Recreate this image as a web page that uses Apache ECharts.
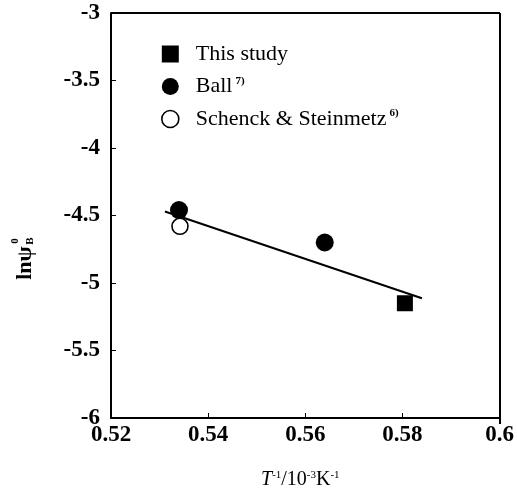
<!DOCTYPE html>
<html><head><meta charset="utf-8">
<script src="https://cdn.jsdelivr.net/npm/echarts@6/dist/echarts.min.js"></script>
<style>html,body{margin:0;padding:0;background:#fff}#c{width:517px;height:495px}</style>
</head><body><div id="c"></div>
<script>
const xTicks = [0.52, 0.54, 0.56, 0.58, 0.6];
const yTicks = [-6, -5.5, -5, -4.5, -4, -3.5, -3];
const thisStudy = [[0.5805, -5.15]];
const ball = [[0.534, -4.46], [0.564, -4.70]];
const schenck = [[0.5342, -4.58]];
const fitLine = [[0.5311, -4.47], [0.584, -5.113]];

const FONT = '"Liberation Serif", "DejaVu Serif", serif';
const GL = 111, GR = 17, GT = 13, GB = 71;
const W = 517, H = 495;
const chart = echarts.init(document.getElementById('c'));
const supStyle = {fontSize: 11, fontFamily: FONT, fontWeight: 'bold', color: '#000', verticalAlign: 'top', lineHeight: 22, padding: [0,0,8,3]};
chart.setOption({
  animation: false,
  backgroundColor: '#fff',
  grid: {left: GL, right: GR, top: GT, bottom: GB, show: false},
  xAxis: {
    type: 'value', min: 0.52, max: 0.6, interval: 0.02,
    axisLine: {show: true, lineStyle: {color: '#000', width: 2}},
    axisTick: {show: true, inside: true, length: 5, lineStyle: {color: '#000', width: 1}},
    splitLine: {show: false},
    axisLabel: {color: '#000', fontFamily: FONT, fontSize: 23, fontWeight: 'bold', margin: 6,
      formatter: v => xTicks.find(t => Math.abs(t - v) < 1e-9).toString()},
    name: '{i|T}{s|-1}{n|/10}{s|-3}{n|K}{s|-1}',
    nameLocation: 'middle', nameGap: 52,
    nameTextStyle: {padding: [0, 10, 0, 0], rich: {
      i: {fontFamily: FONT, fontStyle: 'italic', fontSize: 20, color: '#000'},
      n: {fontFamily: FONT, fontSize: 20, color: '#000'},
      s: {fontFamily: FONT, fontSize: 11, color: '#000', verticalAlign: 'top', padding: [0,0,9,0]}
    }}
  },
  yAxis: {
    type: 'value', min: -6, max: -3, interval: 0.5,
    axisLine: {show: true, onZero: false, lineStyle: {color: '#000', width: 2}},
    axisTick: {show: true, inside: true, length: 5, lineStyle: {color: '#000', width: 1}},
    splitLine: {show: false},
    axisLabel: {color: '#000', fontFamily: FONT, fontSize: 23, fontWeight: 'bold', margin: 11,
      formatter: v => yTicks.find(t => Math.abs(t - v) < 1e-9).toString()}
  },
  graphic: [
    {type: 'line', shape: {x1: GL, y1: GT, x2: W - GR, y2: GT}, style: {stroke: '#000', lineWidth: 2}},
    {type: 'line', shape: {x1: W - GR, y1: GT, x2: W - GR, y2: H - GB}, style: {stroke: '#000', lineWidth: 2}},
    {type: 'group', x: 0, y: 258, rotation: Math.PI / 2, children: [
      {type: 'text', x: -5, y: 25, style: {text: 'lnψ', font: 'bold 22px ' + FONT, fill: '#000', align: 'center', verticalAlign: 'middle'}},
      {type: 'text', x: 17, y: 15, style: {text: '0', font: 'bold 11px ' + FONT, fill: '#000', align: 'center', verticalAlign: 'middle'}},
      {type: 'text', x: 17, y: 30, style: {text: 'B', font: 'bold 11px ' + FONT, fill: '#000', align: 'center', verticalAlign: 'middle'}}
    ]}
  ],
  legend: {
    orient: 'vertical', left: 156, top: 38, itemGap: 10.5, itemWidth: 17, itemHeight: 17,
    data: [
      {name: 'This study', icon: 'rect', itemStyle: {color: '#000', opacity: 1}},
      {name: 'Ball', icon: 'circle', itemStyle: {color: '#000', opacity: 1}},
      {name: 'Schenck & Steinmetz', icon: 'circle', itemStyle: {color: '#fff', borderColor: '#000', borderWidth: 1.6, opacity: 1}}
    ],
    formatter: name => name === 'Ball' ? 'Ball{sup|7)}' : (name === 'Schenck & Steinmetz' ? 'Schenck & Steinmetz{sup|6)}' : name),
    textStyle: {fontFamily: FONT, fontSize: 22, lineHeight: 22, color: '#000', padding: [0,0,0,12],
      rich: {sup: supStyle}}
  },
  series: [
    {type: 'line', name: 'fit', data: fitLine, symbol: 'none', lineStyle: {color: '#000', width: 2}, silent: true},
    {type: 'scatter', name: 'This study', data: thisStudy, symbol: 'rect', symbolSize: 16, itemStyle: {color: '#000', opacity: 1}},
    {type: 'scatter', name: 'Ball', data: ball, symbol: 'circle', symbolSize: 18, itemStyle: {color: '#000', opacity: 1}},
    {type: 'scatter', name: 'Schenck & Steinmetz', data: schenck, symbol: 'circle', symbolSize: 16,
      itemStyle: {color: '#fff', borderColor: '#000', borderWidth: 1.6, opacity: 1}}
  ]
});
</script></body></html>
